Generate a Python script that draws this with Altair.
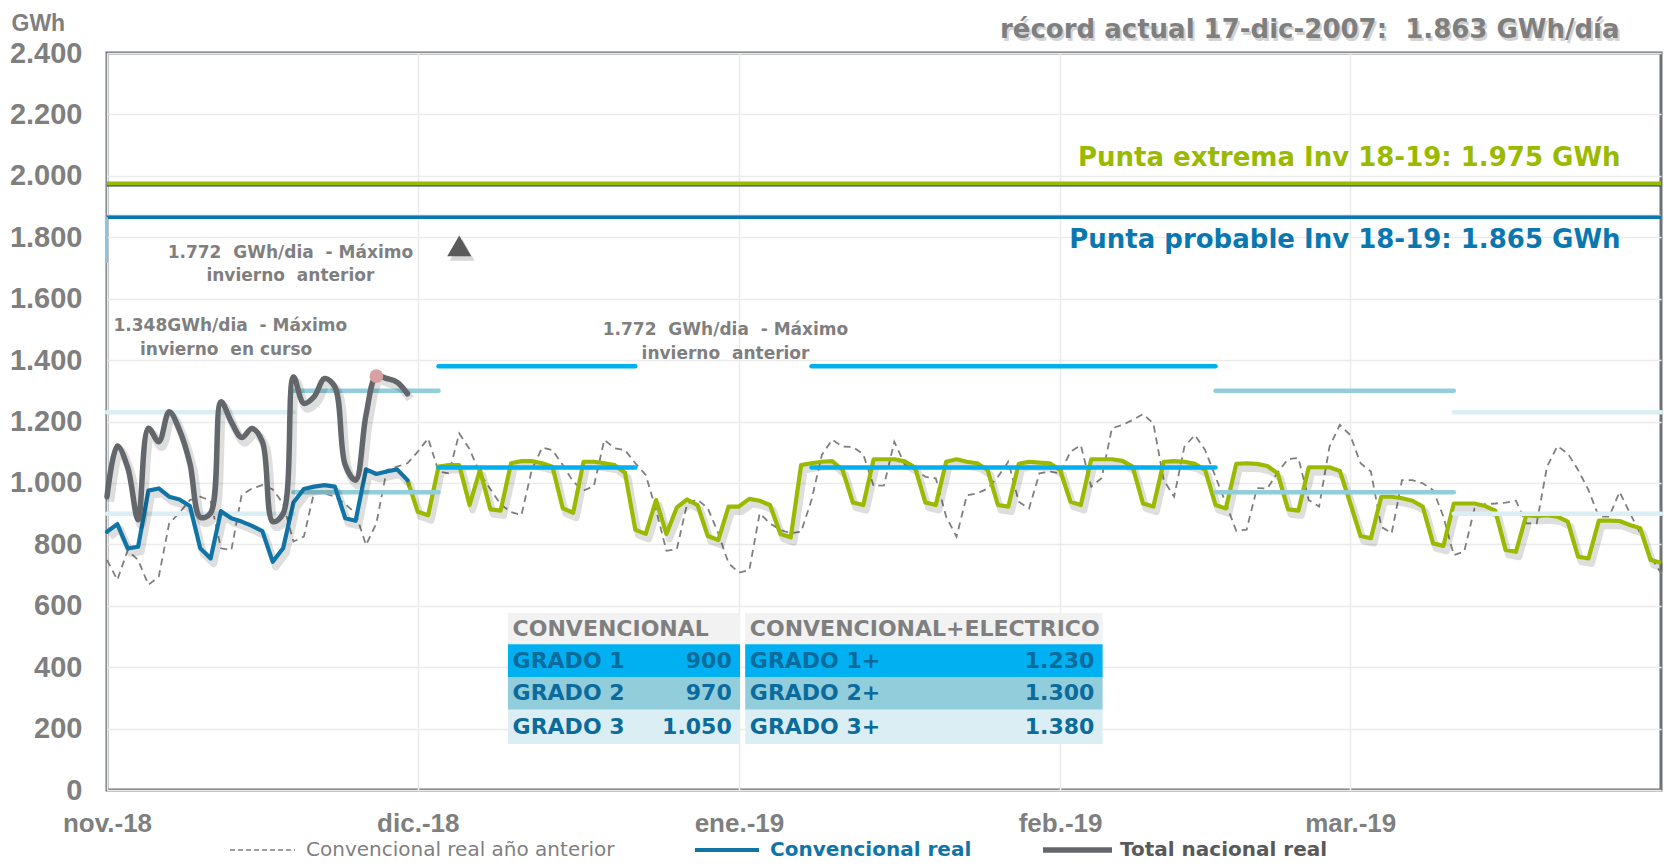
import json
import altair as alt
import pandas as pd

# ---------------------------------------------------------------- data
START = pd.Timestamp("2018-11-01")

month_labels = ["nov.-18", "dic.-18", "ene.-19", "feb.-19", "mar.-19"]
month_starts = [(2018, 11), (2018, 12), (2019, 1), (2019, 2), (2019, 3)]
y_ticks = list(range(0, 2401, 200))

# daily values (GWh/día), first value = 1 nov 2018
total_nacional_real = [955, 1120, 1050, 880, 1178, 1134, 1232, 1172, 1064, 888,
                       902, 1264, 1199, 1148, 1177, 1134, 874, 900, 1345, 1259,
                       1281, 1340, 1313, 1058, 1009, 1221, 1348, 1340, 1328, 1290]
convencional_real = [841, 866, 787, 792, 975, 982, 955, 946, 925, 787,
                     754, 908, 885, 874, 860, 843, 743, 787, 936, 980,
                     988, 993, 988, 885, 877, 1044, 1029, 1037, 1044, 1009]
# forecast, first value = 30 nov 2018
prevision_start = 29
prevision = [1009, 906, 895, 1053, 1058, 1058, 928, 1042, 914, 910,
             1064, 1071, 1071, 1064, 1053, 917, 903, 1069, 1069, 1064,
             1058, 1033, 847, 834, 944, 834, 920, 946, 928, 827,
             814, 923, 923, 948, 942, 928, 834, 823, 1058, 1064,
             1069, 1071, 1042, 936, 928, 1077, 1077, 1077, 1070, 1050,
             936, 928, 1069, 1077, 1069, 1064, 1042, 928, 923, 1062,
             1069, 1066, 1064, 1042, 939, 928, 1077, 1077, 1077, 1072,
             1053, 933, 923, 1069, 1071, 1069, 1062, 1042, 928, 917,
             1062, 1064, 1062, 1055, 1031, 914, 910, 1051, 1051, 1051,
             1039, 935, 827, 820, 955, 955, 950, 942, 923, 803,
             795, 933, 933, 933, 925, 910, 782, 776, 895, 892,
             895, 890, 874, 760, 754, 877, 877, 876, 863, 852,
             749, 740]
convencional_anterior = [749, 684, 781, 749, 668, 695, 868, 903, 944, 955,
                         942, 787, 781, 961, 982, 993, 979, 933, 809, 825,
                         971, 966, 955, 931, 901, 798, 868, 1042, 1053, 1064,
                         1102, 1145, 1037, 1031, 1161, 1110, 1030, 980, 930, 905,
                         895, 1042, 1115, 1107, 1058, 1004, 975, 990, 1140, 1113,
                         1107, 1064, 1026, 912, 779, 784, 933, 946, 917, 836,
                         738, 708, 716, 901, 868, 847, 836, 841, 944, 1091,
                         1141, 1118, 1117, 1093, 990, 992, 1134, 1060, 1042, 1020,
                         1015, 890, 825, 960, 966, 982, 1020, 1069, 939, 917,
                         1031, 1037, 1031, 1102, 1123, 988, 1015, 1178, 1189, 1205,
                         1224, 1194, 1009, 955, 1118, 1156, 1107, 1020, 933, 844,
                         848, 983, 982, 1034, 1078, 1081, 944, 923, 1118, 1189,
                         1156, 1064, 1037, 857, 836, 1009, 1009, 999, 977, 890,
                         765, 776, 917, 931, 933, 936, 942, 868, 868, 1053,
                         1120, 1096, 1042, 977, 890, 890, 971, 901, 836, 760,
                         706]

grado_names = ["GRADO 1", "GRADO 2", "GRADO 3"]
grado_conv = [900, 970, 1050]
grado_elec_names = ["GRADO 1+", "GRADO 2+", "GRADO 3+"]
grado_elec = [1230, 1300, 1380]
table_headers = ["CONVENCIONAL", "CONVENCIONAL+ELECTRICO"]
# periods in which each grado threshold applies
grado_periods = [("2018-11-01", "2018-11-19", 1), ("2018-11-19", "2018-12-03", 2),
                 ("2018-12-03", "2018-12-22", 3), ("2019-01-08", "2019-02-16", 3),
                 ("2019-02-16", "2019-03-11", 2), ("2019-03-11", "2019-03-31", 1)]

punta_extrema = 1975
punta_probable = 1865
max_anterior = 1772
max_anterior_date = "2018-12-05"
max_curso = 1348
max_curso_date = "2018-11-27"

record_text = "récord actual 17-dic-2007:\u00a0 1.863 GWh/día"
extrema_text = "Punta extrema Inv 18-19: 1.975 GWh"
probable_text = "Punta probable Inv 18-19: 1.865 GWh"
ann_anterior = ["1.772\u00a0 GWh/dia\u00a0 - Máximo", "invierno\u00a0 anterior"]
ann_curso = ["1.348GWh/dia\u00a0 - Máximo", "invierno\u00a0 en curso"]
legend_labels = ["Convencional real año anterior", "Convencional real", "Total nacional real"]

# ---------------------------------------------------------------- helpers
def iso(day):
    return (START + pd.Timedelta(days=day)).strftime("%Y-%m-%dT%H:%M:%SZ")


def iso_date(s):
    return pd.Timestamp(s).strftime("%Y-%m-%dT%H:%M:%SZ")


def fmt(v):
    return f"{v:,}".replace(",", ".")


GREEN = "#9aba00"
BLUE_REAL = "#1075a6"
GRAY_REAL = "#63666a"
TXT_GRAY = "#7f7f7f"
GRID = "#ebebeb"
LEVEL_COLORS = ["#daeef3", "#92cddc", "#00b0f0"]
ROW_COLORS = ["#f2f2f2", "#00b0f0", "#92cddc", "#daeef3"]
TABLE_TXT = "#0a6b9c"
FONT = "Liberation Sans"
VFONT = "DejaVu Sans"

XS = alt.Scale(type="utc", domain=[alt.DateTime(year=2018, month=11, date=1, utc=True),
                                   alt.DateTime(year=2019, month=3, date=31, utc=True)])
YS = alt.Scale(domain=[0, 2400], nice=False)

X_AXIS = alt.Axis(
    values=[alt.DateTime(year=y, month=m, date=1, utc=True) for y, m in month_starts],
    labelExpr=f"{json.dumps(month_labels)}[(utcyear(datum.value)-2018)*12 + utcmonth(datum.value) - 10]",
    title=None, grid=True, gridColor=GRID, gridWidth=1.5, domain=False, ticks=False, tickSize=0,
    labelFont=FONT, labelFontWeight="bold", labelFontSize=26, labelColor=TXT_GRAY,
    labelPadding=20, labelFlush=False, labelOverlap=False, labelBaseline="top", labelBound=False)
Y_AXIS = alt.Axis(
    values=y_ticks, labelExpr="replace(format(datum.value, ','), ',', '.')",
    title="GWh", titleAngle=0, titleAlign="left", titleBaseline="middle", titleX=-96, titleY=-30,
    titleFont=FONT, titleFontSize=23, titleFontWeight="bold", titleColor=TXT_GRAY,
    grid=True, gridColor=GRID, gridWidth=1.5, domain=False, ticks=False, tickSize=0,
    labelFont=FONT, labelFontWeight="bold", labelFontSize=29, labelColor=TXT_GRAY, labelPadding=25)


def X(f):
    return alt.X(f"{f}:T", scale=XS, axis=X_AXIS)


def Y(f):
    return alt.Y(f"{f}:Q", scale=YS, axis=Y_AXIS)


# ---------------------------------------------------------------- frames
df_total = pd.DataFrame({"date": [iso(i) for i in range(len(total_nacional_real))], "value": total_nacional_real})
df_conv = pd.DataFrame({"date": [iso(i) for i in range(len(convencional_real))], "value": convencional_real})
df_prev = pd.DataFrame({"date": [iso(prevision_start + i) for i in range(len(prevision))], "value": prevision})
df_ant = pd.DataFrame({"date": [iso(i) for i in range(len(convencional_anterior))], "value": convencional_anterior})

layers = []

# previous-year dashed line
layers.append(alt.Chart(df_ant).mark_line(color=TXT_GRAY, strokeWidth=1.8, strokeDash=[7, 5])
              .encode(x=X("date"), y=Y("value")))

# forecast (green) with shadow
layers.append(alt.Chart(df_prev).mark_line(color="#000000", opacity=0.13, strokeWidth=7, xOffset=3, yOffset=5,
                                           strokeJoin="round")
              .encode(x=X("date"), y=Y("value")))
layers.append(alt.Chart(df_prev).mark_line(color=GREEN, strokeWidth=4.2, strokeJoin="round")
              .encode(x=X("date"), y=Y("value")))

# grado threshold segments (one layer per grado)
for g in (1, 2, 3):
    rows = []
    for s, e, gg in grado_periods:
        if gg == g:
            for lvl in (grado_conv[g - 1], grado_elec[g - 1]):
                rows.append({"start": iso_date(s), "end": iso_date(e), "level": lvl})
    layers.append(alt.Chart(pd.DataFrame(rows)).mark_rule(strokeWidth=4.5, strokeCap="round",
                                                          color=LEVEL_COLORS[g - 1])
                  .encode(x=X("start"), x2=alt.X2("end"), y=Y("level")))

# real lines with shadows
for df, col, w, interp in ((df_conv, BLUE_REAL, 4.2, "linear"), (df_total, GRAY_REAL, 5.5, "catmull-rom")):
    layers.append(alt.Chart(df).mark_line(color="#000000", opacity=0.13, strokeWidth=w + 3, xOffset=3, yOffset=5,
                                          interpolate=interp, strokeJoin="round")
                  .encode(x=X("date"), y=Y("value")))
    layers.append(alt.Chart(df).mark_line(color=col, strokeWidth=w, interpolate=interp, strokeJoin="round",
                                          strokeCap="round")
                  .encode(x=X("date"), y=Y("value")))

# reference lines
layers.append(alt.Chart(pd.DataFrame({"v": [punta_extrema - 7]})).mark_rule(color="#1f3864", strokeWidth=1.5)
              .encode(y=Y("v")))
layers.append(alt.Chart(pd.DataFrame({"v": [punta_extrema]})).mark_rule(color=GREEN, strokeWidth=4)
              .encode(y=Y("v")))
layers.append(alt.Chart(pd.DataFrame({"v": [punta_probable + 6]})).mark_rule(color="#a8d4ec", strokeWidth=1.5)
              .encode(y=Y("v")))
layers.append(alt.Chart(pd.DataFrame({"v": [punta_probable]})).mark_rule(color="#0a78b0", strokeWidth=3.5)
              .encode(y=Y("v")))
layers.append(alt.Chart(pd.DataFrame({"date": [iso(0)], "a": [1716], "b": [punta_probable]}))
              .mark_rule(color="#8cc3e3", strokeWidth=2)
              .encode(x=X("date"), y=Y("a"), y2=alt.Y2("b")))

# markers
df_tri = pd.DataFrame({"date": [iso_date(max_anterior_date)], "value": [max_anterior]})
layers.append(alt.Chart(df_tri).mark_point(shape="triangle-up", filled=True, size=620, color="#000000",
                                           opacity=0.16, xOffset=3, yOffset=4)
              .encode(x=X("date"), y=Y("value")))
layers.append(alt.Chart(df_tri).mark_point(shape="triangle-up", filled=True, size=580, color="#5a5a5a", opacity=1)
              .encode(x=X("date"), y=Y("value")))
df_dot = pd.DataFrame({"date": [iso_date(max_curso_date)], "value": [max_curso]})
layers.append(alt.Chart(df_dot).mark_circle(size=190, color="#d8a2a4", opacity=1)
              .encode(x=X("date"), y=Y("value")))

# table of grados
T_COLS = [(38.7, 61.1), (61.6, 96.1)]
T_ROWS = [576, 475, 368, 261, 150]
cells = {r: [] for r in range(4)}
txt_head, txt_lab, txt_num = [], [], []
for c, (x0, x1) in enumerate(T_COLS):
    for r in range(4):
        cells[r].append({"x0": iso(x0), "x1": iso(x1), "y0": T_ROWS[r], "y1": T_ROWS[r + 1]})
    txt_head.append({"x": iso(x0 + 0.45), "y": (T_ROWS[0] + T_ROWS[1]) / 2, "t": table_headers[c]})
    names = grado_names if c == 0 else grado_elec_names
    vals = grado_conv if c == 0 else grado_elec
    for i in range(3):
        yc = (T_ROWS[i + 1] + T_ROWS[i + 2]) / 2
        txt_lab.append({"x": iso(x0 + 0.45), "y": yc, "t": names[i]})
        txt_num.append({"x": iso(x1 - 0.8), "y": yc, "t": fmt(vals[i])})

for r in range(4):
    layers.append(alt.Chart(pd.DataFrame(cells[r])).mark_rect(color=ROW_COLORS[r])
                  .encode(x=X("x0"), x2=alt.X2("x1"), y=Y("y0"), y2=alt.Y2("y1")))
tstyle = dict(baseline="middle", font=VFONT, fontWeight="bold", fontSize=22)
layers.append(alt.Chart(pd.DataFrame(txt_head)).mark_text(align="left", color=TXT_GRAY, **tstyle)
              .encode(x=X("x"), y=Y("y"), text="t:N"))
layers.append(alt.Chart(pd.DataFrame(txt_lab)).mark_text(align="left", color=TABLE_TXT, **tstyle)
              .encode(x=X("x"), y=Y("y"), text="t:N"))
layers.append(alt.Chart(pd.DataFrame(txt_num)).mark_text(align="right", color=TABLE_TXT, **tstyle)
              .encode(x=X("x"), y=Y("y"), text="t:N"))

# annotations (placed in data coordinates)
ann = pd.DataFrame({
    "x": [iso(17.7), iso(17.7), iso(11.9), iso(11.5), iso(59.7), iso(59.7)],
    "y": [1749, 1674, 1511, 1433, 1498, 1420],
    "t": ann_anterior + ann_curso + ann_anterior,
})
layers.append(alt.Chart(ann).mark_text(align="center", baseline="middle", font=VFONT, fontWeight="bold",
                                       fontSize=17, color=TXT_GRAY)
              .encode(x=X("x"), y=Y("y"), text="t:N"))

big = dict(align="right", baseline="middle", font=VFONT, fontWeight="bold", fontSize=26)
rec = pd.DataFrame({"x": [iso(146.0)], "y": [2475], "t": [record_text]})
layers.append(alt.Chart(rec).mark_text(color="#b0b0b0", opacity=0.55, dx=2, dy=3, **big)
              .encode(x=X("x"), y=Y("y"), text="t:N"))
layers.append(alt.Chart(rec).mark_text(color=TXT_GRAY, **big)
              .encode(x=X("x"), y=Y("y"), text="t:N"))
layers.append(alt.Chart(pd.DataFrame({"x": [iso(146.1)], "y": [2057], "t": [extrema_text]}))
              .mark_text(color=GREEN, **big).encode(x=X("x"), y=Y("y"), text="t:N"))
layers.append(alt.Chart(pd.DataFrame({"x": [iso(146.1)], "y": [1791], "t": [probable_text]}))
              .mark_text(color="#0a78b0", **big).encode(x=X("x"), y=Y("y"), text="t:N"))

# custom legend below the axis
LEG_Y = 797
leg = [
    (123, 188, dict(color=TXT_GRAY, strokeWidth=1.6, strokeDash=[5, 3]), 199,
     dict(fontWeight="normal", color=TXT_GRAY)),
    (588, 652, dict(color=BLUE_REAL, strokeWidth=4), 663, dict(fontWeight="bold", color=BLUE_REAL)),
    (936, 1005, dict(color=GRAY_REAL, strokeWidth=5.5), 1013, dict(fontWeight="bold", color="#595959")),
]
for (a, b, rstyle, tx, tst), label in zip(leg, legend_labels):
    d = pd.DataFrame({"label": [label]})
    layers.append(alt.Chart(d).mark_rule(**rstyle)
                  .encode(x=alt.value(a), x2=alt.value(b), y=alt.value(LEG_Y)))
    layers.append(alt.Chart(d).mark_text(align="left", baseline="middle", font=VFONT, fontSize=20, **tst)
                  .encode(x=alt.value(tx), y=alt.value(LEG_Y), text="label:N"))

chart = (
    alt.layer(*layers)
    .properties(width=1554, height=737,
                padding={"left": 99, "top": 45, "right": 2, "bottom": 70},
                autosize=alt.AutoSizeParams(type="none"), background="white")
    .configure_view(stroke="#6d7075", strokeWidth=3)
)

chart.save("out.html", embed_options={"renderer": "svg", "actions": False})
